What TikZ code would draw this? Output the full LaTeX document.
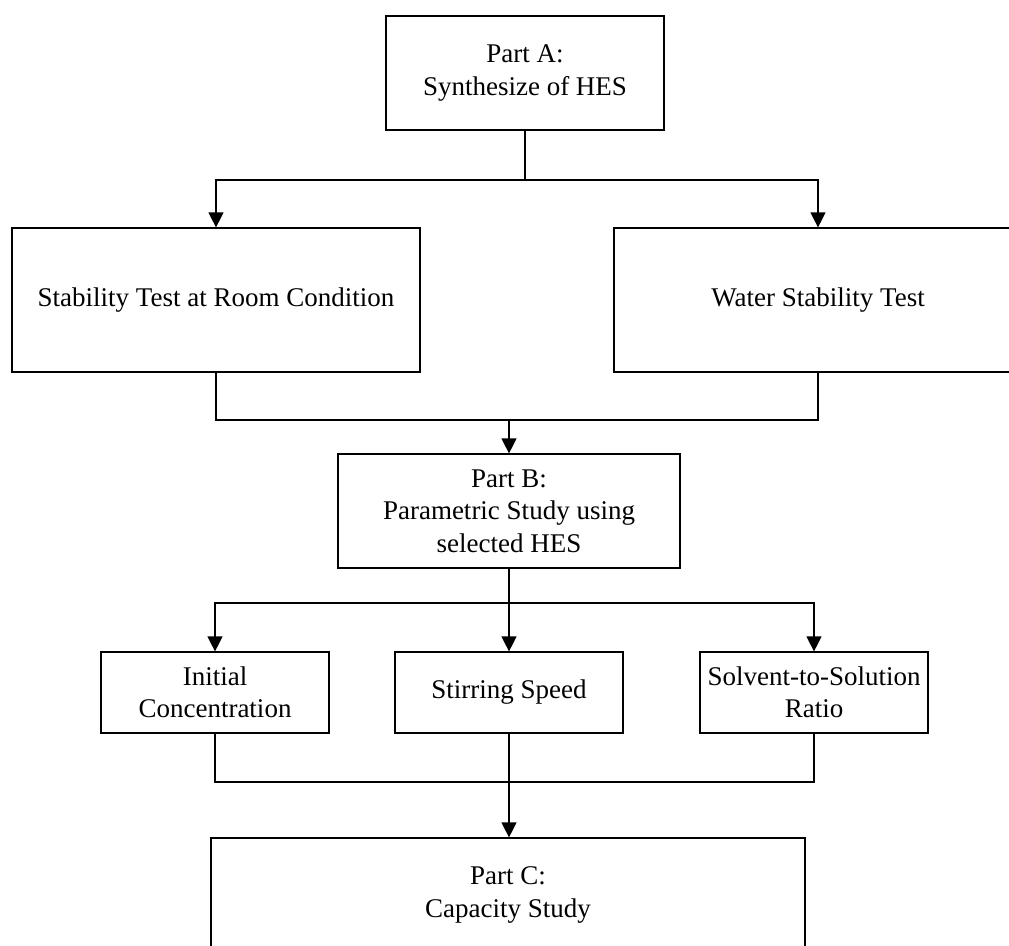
\documentclass[tikz,border=0pt]{standalone}
\usepackage{fontspec}
\setmainfont{Liberation Serif}
\usetikzlibrary{arrows.meta}

\begin{document}
\begin{tikzpicture}[x=1pt, y=-1pt, line width=1.2pt, >={Triangle[length=15pt, width=15pt]},
  box/.style={draw, align=center, inner sep=0pt, font=\fontsize{27}{32.5}\selectfont},
  wide/.style={box, minimum width=408pt, minimum height=144pt},
  small/.style={box, minimum width=228pt, minimum height=81pt}]
  \clip (0,0) rectangle (1009,945);
  % parts
  \node[box, minimum width=278pt, minimum height=114pt] (partA) at (525,73) {Part A:\\Synthesize of HES};
  \node[wide] (stab) at (216,300) {Stability Test at Room Condition};
  \node[wide] (water) at (818,300) {Water Stability Test};
  \node[box, minimum width=342pt, minimum height=114pt] (partB) at (509,511) {Part B:\\Parametric Study using\\selected HES};
  \node[small] (init) at (215,692.5) {Initial\\Concentration};
  \node[small] (stir) at (509,692.5) {Stirring Speed};
  \node[small] (solv) at (814,692.5) {Solvent-to-Solution\\Ratio};
  \node[box, minimum width=594pt, minimum height=114pt] (partC) at (508,895) {Part C:\\Capacity Study};
  % connectors
  \coordinate (forkA) at (525,180);
  \coordinate (joinB) at (509,420);
  \coordinate (forkB) at (509,603);
  \coordinate (joinC) at (509,782);
  \draw (partA) -- (forkA);
  \draw[->] (forkA) -| (stab.north);
  \draw[->] (forkA) -| (water.north);
  \draw (stab.south) |- (joinB) -| (water.south);
  \draw[->] (joinB) -- (partB.north);
  \draw (partB) -- (forkB);
  \draw[->] (forkB) -| (init.north);
  \draw[->] (forkB) -- (stir.north);
  \draw[->] (forkB) -| (solv.north);
  \draw (init.south) |- (joinC) -| (solv.south);
  \draw[->] (stir.south) -- (stir.south |- partC.north);
\end{tikzpicture}
\end{document}
